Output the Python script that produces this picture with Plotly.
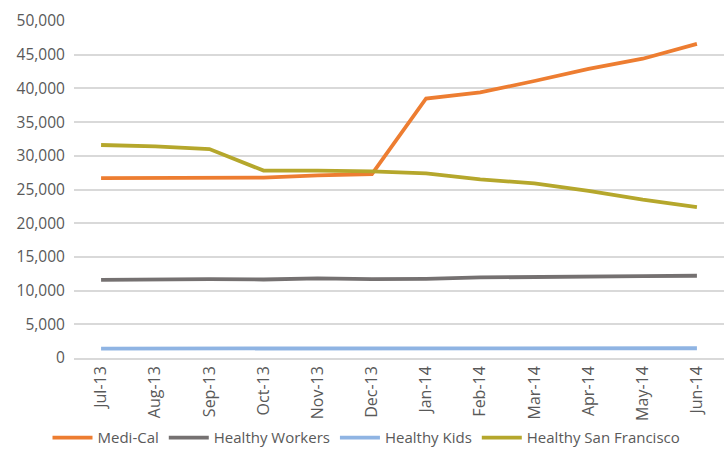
import plotly.graph_objects as go

months = ["Jul-13", "Aug-13", "Sep-13", "Oct-13", "Nov-13", "Dec-13",
          "Jan-14", "Feb-14", "Mar-14", "Apr-14", "May-14", "Jun-14"]
medi_cal = [26700, 26750, 26750, 26750, 27100, 27300, 38500, 39400, 41100, 42900, 44400, 46600]
healthy_workers = [11600, 11700, 11700, 11650, 11800, 11700, 11750, 11950, 12050, 12100, 12150, 12200]
healthy_kids = [1400, 1400, 1400, 1400, 1400, 1400, 1400, 1400, 1400, 1400, 1450, 1450]
healthy_sf = [31600, 31400, 31000, 27800, 27800, 27700, 27400, 26500, 25900, 24800, 23500, 22400]

series = [
    ("Medi-Cal", medi_cal, "#ED7D31"),
    ("Healthy Workers", healthy_workers, "#757171"),
    ("Healthy Kids", healthy_kids, "#8FB4E3"),
    ("Healthy San Francisco", healthy_sf, "#B5A72C"),
]

fig = go.Figure()
for name, vals, color in series:
    fig.add_trace(go.Scatter(x=months, y=vals, name=name, mode="lines",
                             line=dict(color=color, width=3.8)))

font_family = "'Open Sans', sans-serif"
fig.update_layout(
    width=724, height=449,
    margin=dict(l=74, r=0, t=21, b=91, autoexpand=False),
    paper_bgcolor="white", plot_bgcolor="white",
    font=dict(family=font_family, size=15, color="#595959"),
    showlegend=True,
    legend=dict(orientation="h", x=0.45, xanchor="center",
                y=-0.237, yanchor="middle",
                font=dict(size=15, color="#595959"), itemwidth=40,
                tracegroupgap=0, bgcolor="rgba(0,0,0,0)"),
    xaxis=dict(type="category", range=[-0.5, 11.5], tickangle=-90,
               tickmode="array", tickvals=months, ticktext=months,
               automargin=False,
               showgrid=False, showline=True, linecolor="#D9D9D9", linewidth=1.5,
               ticks="", tickfont=dict(size=16, color="#595959"), zeroline=False),
    yaxis=dict(range=[0, 50000], dtick=5000, tickformat=",d", automargin=False,
               showgrid=True, gridcolor="#D9D9D9", gridwidth=1.5,
               zeroline=False, showline=False, ticks="",
               ticksuffix="  ", tickfont=dict(size=15.5, color="#595959")),
)

fig.write_html("out.html",
               config={"displayModeBar": False},
               post_script="document.body.style.margin='0';document.body.style.overflow='hidden';")
